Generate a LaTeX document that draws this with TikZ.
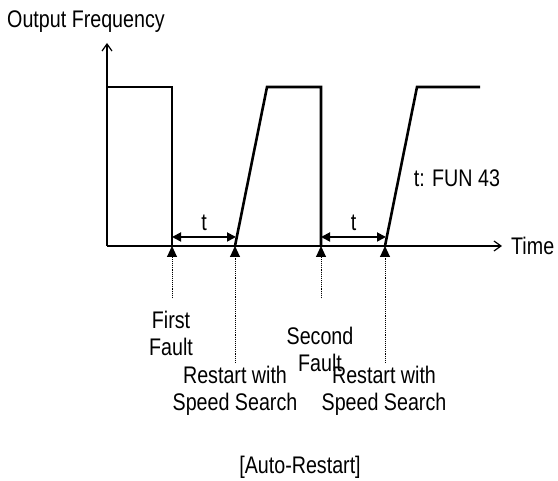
\documentclass[tikz,border=0pt]{standalone}
\usepackage{fontspec}
\setmainfont{Liberation Sans}[FakeStretch=0.82]
\usepackage{tikz}
\usetikzlibrary{positioning,arrows.meta,calc}

\begin{document}
\begin{tikzpicture}[x=1pt, y=1pt,
  lbl/.style={font=\fontsize{24}{27}\selectfont, align=center, inner sep=0pt},
  wave/.style={line width=2.6pt, line join=miter},
  axis/.style={line width=1.2pt, -{Straight Barb[length=7pt,width=10pt,line width=1.2pt]}},
  gap/.style={line width=1.8pt, {Triangle[length=9pt,width=9pt]}-{Triangle[length=9pt,width=9pt]}},
  evt/.style={line width=0.9pt, densely dotted, -{Triangle[length=11pt,width=10pt]}}]
  \useasboundingbox (0,0) rectangle (558,481);
  % axes
  \coordinate (o) at (107,235);
  \coordinate (ytop) at (107,438);
  \coordinate (xend) at (502,235);
  \draw[axis] (o) -- (ytop);
  \draw[axis] (o) -- (xend);
  \node[lbl] (freq) at (86,459) {Output Frequency};
  \node[lbl, right=9pt of xend] (time) {Time};
  % events on the time axis
  \coordinate (f1) at (172,235); \coordinate (r1) at (235,235);
  \coordinate (f2) at (321,235); \coordinate (r2) at (385,235);
  % output frequency
  \draw[wave] (107,394) -- (172,394) -- (f1);
  \draw[wave] (r1) -- (267,394) -- (321,394) -- (f2);
  \draw[wave] (r2) -- (417,394) -- (480,394);
  % restart delay t
  \coordinate (t1a) at (172,244); \coordinate (t1b) at (236,244);
  \coordinate (t2a) at (321,244); \coordinate (t2b) at (386,244);
  \draw[gap] (t1a) -- (t1b);
  \draw[gap] (t2a) -- (t2b);
  \node[lbl, above=6pt of $(t1a)!0.5!(t1b)$] (t1) {t};
  \node[lbl, above=6pt of $(t2a)!0.5!(t2b)$] (t2) {t};
  \node[lbl] (fun) at (457,303) {t: FUN 43};
  % event labels
  \node[lbl] (ff) at (171,148) {First\\Fault};
  \node[lbl] (sf) at (320,132) {Second\\Fault};
  \node[lbl] (rs1) at (235,90) {Restart with\\Speed Search};
  \node[lbl] (rs2) at (384,90) {Restart with\\Speed Search};
  \coordinate (f1b) at (172,183); \coordinate (f2b) at (321,183);
  \coordinate (r1b) at (235,118); \coordinate (r2b) at (385,118);
  \draw[evt] (f1b) -- (f1);
  \draw[evt] (r1b) -- (r1);
  \draw[evt] (f2b) -- (f2);
  \draw[evt] (r2b) -- (r2);
  \node[lbl] (title) at (300,14) {[Auto-Restart]};
\end{tikzpicture}
\end{document}
